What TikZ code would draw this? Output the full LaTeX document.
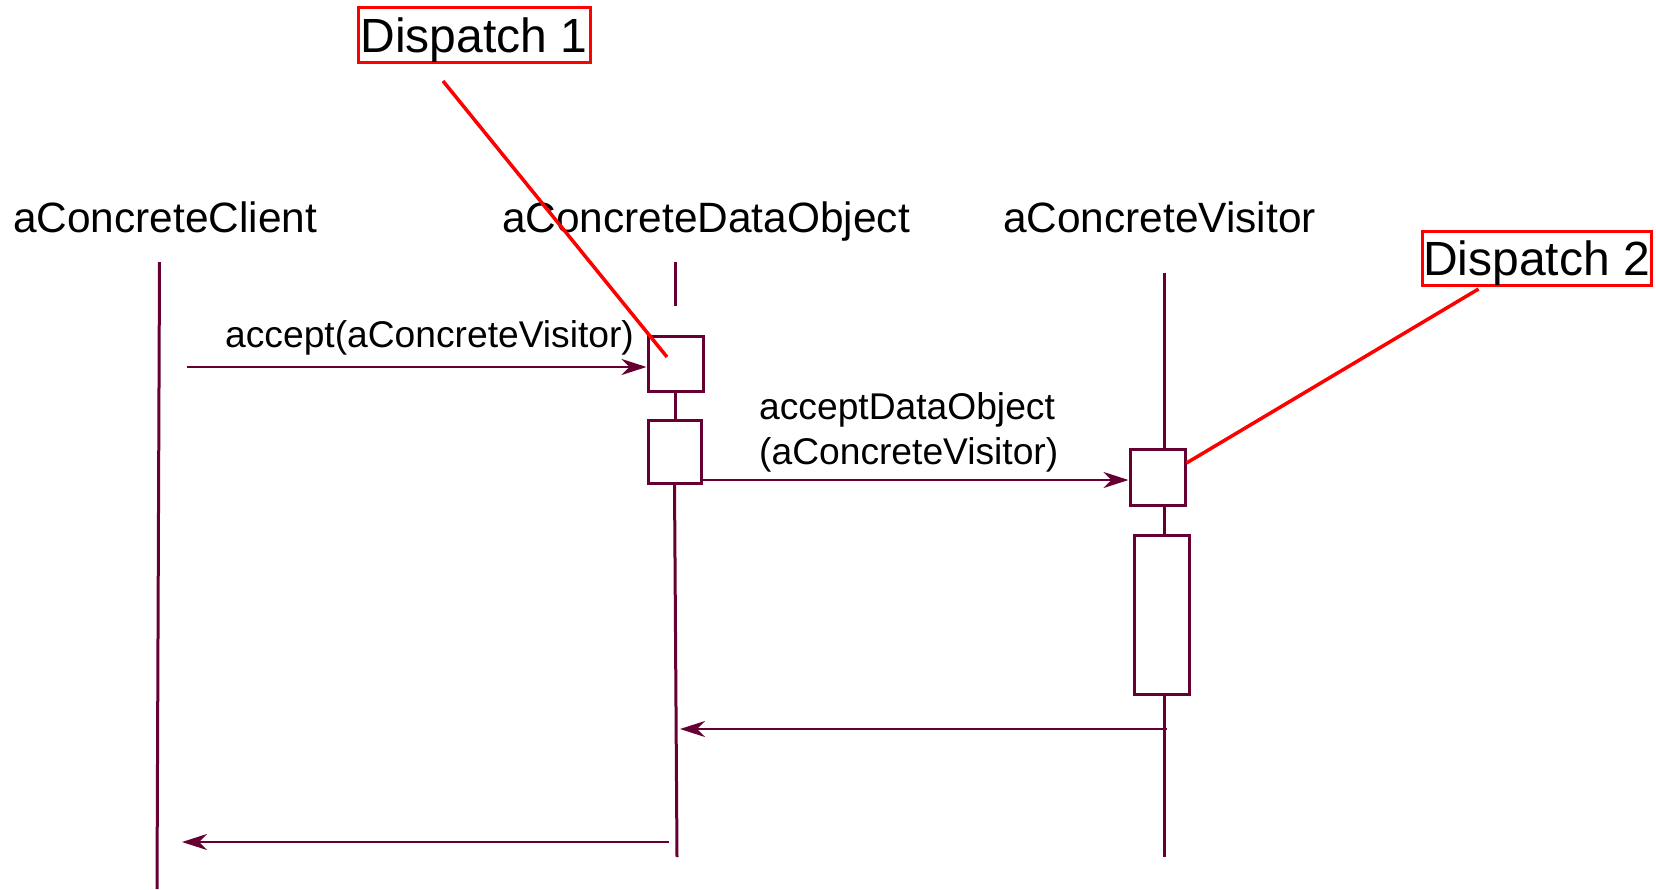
\documentclass[tikz,border=0pt]{standalone}
\usepackage{fontspec}
\setmainfont{Liberation Sans}
\usetikzlibrary{arrows.meta,calc}
\definecolor{uml}{HTML}{660033}
\begin{document}
\begin{tikzpicture}[x=1pt,y=-1pt,
  life/.style={draw=uml,line width=3pt},
  actbox/.style={draw=uml,line width=3pt,fill=white,inner sep=0pt,minimum width=55pt},
  msg/.style={draw=uml,line width=2.6pt,-{Stealth[length=25pt,width=16pt,inset=8pt]}},
  lbl/.style={inner sep=0pt,anchor=base west,font=\fontsize{42.4}{50}\selectfont},
  mlbl/.style={inner sep=0pt,anchor=base west,align=left,font=\fontsize{37.2}{44.5}\selectfont},
  note/.style={draw=red,line width=3pt,inner sep=0pt,text height=41pt,text depth=6pt,font=\fontsize{48}{52}\selectfont},
  noteline/.style={draw=red,line width=3.5pt}]
\useasboundingbox (0,0) rectangle (1656,889);
% lifeline labels
\node[lbl] (client) at (13,232) {aConcreteClient};
\node[lbl] (data) at (502,232) {aConcreteDataObject};
\node[lbl] (visitor) at (1003,232) {aConcreteVisitor};
% lifelines
\coordinate (cT) at (159.5,262); \coordinate (cB) at (157,889);
\draw[life] (cT) -- (cB);
\coordinate (dT) at (675.5,262); \coordinate (dM) at (675.5,306);
\draw[life] (dT) -- (dM);
\node[actbox,minimum height=55pt] (b1) at (675.5,363.5) {};
\node[actbox,minimum width=53pt,minimum height=63pt] (b2) at (674.5,451.5) {};
\node[actbox,minimum height=56pt] (b3) at (1157.5,477) {};
\node[actbox,minimum height=159pt] (b4) at (1161.5,614.5) {};
\draw[life] (b1.south) -- (b1.south |- b2.north);
\coordinate (dB) at (677,857);
\draw[life] (b2.south) -- (dB);
\coordinate (vT) at (1164.5,273); \coordinate (vB) at (1164.5,857);
\draw[life] (vT) -- (vT |- b3.north);
\draw[life] (vT |- b3.south) -- (vT |- b4.north);
\draw[life] (vT |- b4.south) -- (vB);
% messages
\coordinate (m1) at (187,367);
\draw[msg] (m1) -- (m1 -| b1.west);
\coordinate (m2) at (0,480);
\draw[msg] (b2.east |- m2) -- (b3.west |- m2);
\coordinate (r1) at (1167,729); \coordinate (r1e) at (680,729);
\draw[msg] (r1) -- (r1e);
\coordinate (r2) at (669,842); \coordinate (r2e) at (182,842);
\draw[msg] (r2) -- (r2e);
% message labels
\node[mlbl] (acc) at (225,347) {accept(aConcreteVisitor)};
\node[mlbl] (adl) at (759,464) {acceptDataObject\\(aConcreteVisitor)};
% dispatch notes
\node[note,minimum width=232pt,minimum height=55pt] (d1) at (474,34.5) {Dispatch 1};
\node[note,minimum width=229pt,minimum height=54pt] (d2) at (1536.5,258) {Dispatch 2};
\coordinate (d1a) at (443,81); \coordinate (d1b) at (667,357);
\draw[noteline] (d1a) -- (d1b);
\coordinate (d2a) at (1478.5,289); \coordinate (d2y) at (0,463);
\draw[noteline] (d2a) -- (b3.east |- d2y);
\end{tikzpicture}
\end{document}
